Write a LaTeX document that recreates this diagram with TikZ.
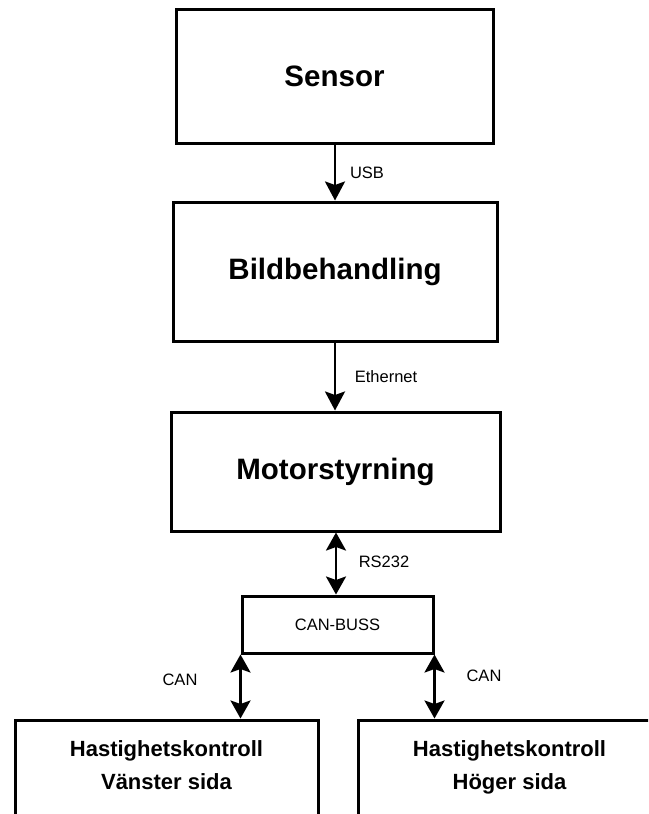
\documentclass[tikz,border=0pt]{standalone}
\usepackage{fontspec}
\setmainfont{Liberation Sans}
\usetikzlibrary{arrows.meta}
\begin{document}
\begin{tikzpicture}[x=1pt,y=-1pt,
  bigbox/.style={draw,line width=3pt,inner sep=0pt,font=\fontsize{29.5}{35}\selectfont\bfseries},
  smallbox/.style={draw,line width=3pt,inner sep=0pt,font=\fontsize{16.5}{19}\selectfont},
  sidebox/.style={draw,line width=3pt,inner sep=0pt,align=center,font=\fontsize{22}{33}\selectfont\bfseries},
  lbl/.style={font=\fontsize{16.5}{19}\selectfont,inner sep=0pt},
  conn/.style={line width=2.7pt,-{Stealth[length=19pt,width=20pt,inset=3.5pt]}},
  biconn/.style={line width=2.7pt,{Stealth[length=18pt,width=20pt,inset=3.5pt]}-{Stealth[length=18pt,width=20pt,inset=3.5pt]}}]
\clip (0,0) rectangle (648,814);
\useasboundingbox (0,0) rectangle (648,814);
\fill[white] (0,0) rectangle (648,814);
\node[bigbox,minimum width=317pt,minimum height=134pt] (sensor) at (334.5,76) {Sensor};
\node[bigbox,minimum width=324pt,minimum height=139pt] (bild) at (335,271.5) {Bildbehandling};
\node[bigbox,minimum width=329pt,minimum height=119pt] (motor) at (335.5,471.5) {Motorstyrning};
\node[smallbox,minimum width=191pt,minimum height=57pt] (canbuss) at (337.5,624.5) {CAN-BUSS};
\node[sidebox,minimum width=303pt,minimum height=106pt] (left) at (166.5,773) {Hastighetskontroll\\Vänster sida\rule[-16pt]{0pt}{0pt}};
\node[sidebox,minimum width=303pt,minimum height=106pt] (right) at (509.5,773) {Hastighetskontroll\\Höger sida\rule[-16pt]{0pt}{0pt}};
\draw[conn] (sensor.south -| 335,0) -- (bild.north -| 335,0);
\draw[conn] (bild.south -| 335,0) -- (motor.north -| 335,0);
\draw[biconn] (motor.south -| 336,0) -- (canbuss.north -| 336,0);
\draw[biconn] (canbuss.south west) -- (canbuss.south west |- left.north);
\draw[biconn] (canbuss.south east) -- (canbuss.south east |- right.north);
\node[lbl] (usb) at (367,173) {USB};
\node[lbl] (eth) at (386,377) {Ethernet};
\node[lbl] (rs) at (384,562) {RS232};
\node[lbl] (canl) at (180,680) {CAN};
\node[lbl] (canr) at (484,676) {CAN};
\end{tikzpicture}
\end{document}
